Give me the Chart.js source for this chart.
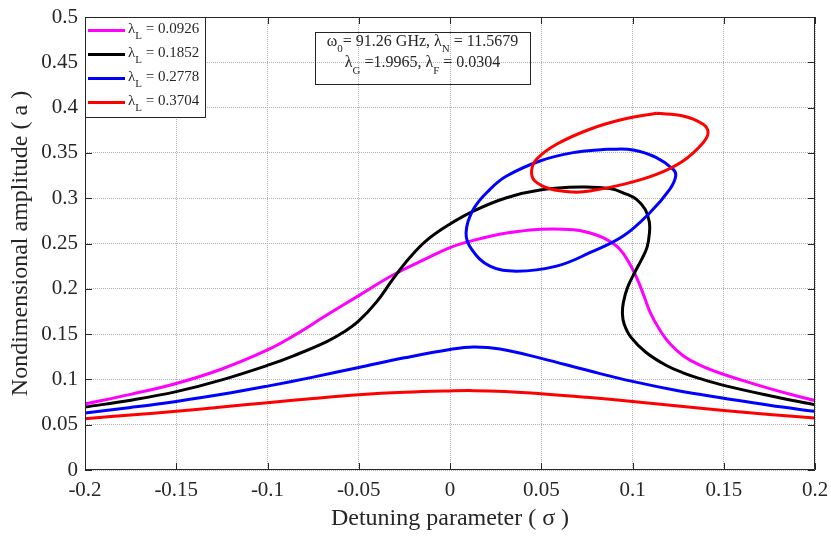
<!DOCTYPE html>
<html><head><meta charset="utf-8">
<script src="https://cdn.jsdelivr.net/npm/chart.js@4.4.1/dist/chart.umd.min.js"></script>
<style>html,body{margin:0;padding:0;background:#fff}#c{display:block}</style>
</head><body>
<canvas id="c" width="831" height="536"></canvas>
<script>
// ---- tick values / labels ----
const xTickValues = [-0.2,-0.15,-0.1,-0.05,0,0.05,0.1,0.15,0.2];
const xTickLabels = ['-0.2','-0.15','-0.1','-0.05','0','0.05','0.1','0.15','0.2'];
const yTickValues = [0,0.05,0.1,0.15,0.2,0.25,0.3,0.35,0.4,0.45,0.5];
const yTickLabels = ['0','0.05','0.1','0.15','0.2','0.25','0.3','0.35','0.4','0.45','0.5'];

// ---- series labels (λ_L values) ----
const lambdaL = ['0.0926','0.1852','0.2778','0.3704'];

// ---- λL = 0.0926 (magenta) ----
const magentaX = [-0.2,-0.175,-0.15,-0.125,-0.1,-0.0858,-0.0675,-0.05,-0.031,-0.0128,0,0.0128,0.031,0.05,0.0677,0.0763,0.0854,0.0927,0.0982,0.1027,0.1064,0.11,0.115,0.1204,0.1277,0.1369,0.15,0.1642,0.1752,0.1875,0.2];
const magentaY = [0.073,0.0835,0.0955,0.1115,0.1325,0.148,0.171,0.1925,0.2155,0.2335,0.2455,0.2535,0.2615,0.2658,0.2652,0.2618,0.2548,0.2445,0.2285,0.2105,0.1915,0.1725,0.1545,0.1395,0.1262,0.1158,0.1055,0.0964,0.0898,0.083,0.0767];

// ---- λL = 0.1852 (black) ----
const blackX = [-0.2,-0.175,-0.15,-0.125,-0.0985,-0.0858,-0.0675,-0.058,-0.05,-0.0401,-0.031,-0.0219,-0.0128,0,0.0128,0.031,0.0493,0.0712,0.0876,0.0967,0.1022,0.107,0.1092,0.1093,0.108,0.105,0.1012,0.0973,0.095,0.0945,0.0954,0.0991,0.1073,0.1186,0.1277,0.1365,0.15,0.1752,0.2];
const blackY = [0.0695,0.077,0.0865,0.0995,0.1165,0.126,0.1418,0.1525,0.1645,0.1858,0.2115,0.2348,0.2535,0.2715,0.2858,0.3005,0.309,0.3123,0.3106,0.3044,0.2987,0.2875,0.274,0.262,0.246,0.2325,0.218,0.2016,0.185,0.172,0.1612,0.1466,0.13,0.1153,0.1073,0.1012,0.0934,0.082,0.072];

// ---- λL = 0.2778 (blue) ----
const blueX = [-0.2,-0.175,-0.15,-0.125,-0.1,-0.075,-0.05,-0.025,0,0.0128,0.0274,0.05,0.0768,0.1,0.125,0.15,0.175,0.2];
const blueY = [0.0629,0.069,0.0757,0.0835,0.0926,0.1025,0.1132,0.1238,0.133,0.1357,0.1335,0.1232,0.1092,0.0978,0.0875,0.0793,0.0715,0.0647];
const blueLoopX = [0.0858,0.1004,0.1131,0.1223,0.1237,0.1204,0.1095,0.0949,0.0766,0.0584,0.0365,0.0219,0.0119,0.0088,0.0128,0.0219,0.031,0.0493,0.0675,0.0858];
const blueLoopY = [0.354,0.3532,0.3448,0.3319,0.3245,0.3098,0.284,0.2582,0.2398,0.225,0.2195,0.225,0.2435,0.2619,0.2877,0.3098,0.3245,0.3411,0.3503,0.354];

// ---- λL = 0.3704 (red) ----
const redX = [-0.2,-0.175,-0.15,-0.125,-0.1,-0.075,-0.05,-0.025,0,0.0128,0.03,0.05,0.075,0.1,0.125,0.15,0.175,0.2];
const redY = [0.0567,0.0607,0.0648,0.0695,0.0743,0.079,0.0831,0.0858,0.0873,0.0876,0.0866,0.0842,0.0802,0.0757,0.0707,0.0658,0.0613,0.0573];
const redLoopX = [0.1131,0.1277,0.1387,0.1414,0.1387,0.1277,0.1131,0.0949,0.0766,0.0675,0.0547,0.0465,0.0447,0.0474,0.0584,0.0766,0.0949,0.1131];
const redLoopY = [0.3937,0.3908,0.3816,0.3724,0.3613,0.3411,0.3263,0.3153,0.3079,0.3068,0.3105,0.319,0.33,0.3429,0.3595,0.3761,0.3871,0.3937];

// ---- annotation text ----
const noteLine1 = [['ω',0],['0',1],['= 91.26 GHz, λ',0],['N',1],[' = 11.5679',0]];
const noteLine2 = [['λ',0],['G',1],[' =1.9965, λ',0],['F',1],[' = 0.0304',0]];

// ---- styles ----
const seriesColors = ['#ff00ff','#000000','#0000ff','#ff0000'];
const FONT = "'Liberation Serif','Times New Roman',serif";
const TXT = '#262626';

const pts = (xs, ys) => xs.map((x, i) => ({x: x, y: ys[i]}));
const curves = [
  {s:0, d:pts(magentaX, magentaY)},
  {s:1, d:pts(blackX, blackY)},
  {s:2, d:pts(blueX, blueY)},
  {s:2, d:pts(blueLoopX, blueLoopY)},
  {s:3, d:pts(redX, redY)},
  {s:3, d:pts(redLoopX, redLoopY)}
];
const datasets = curves.map((c, i) => ({
  label: 'λL = ' + lambdaL[c.s],
  data: c.d,
  borderColor: seriesColors[c.s],
  backgroundColor: seriesColors[c.s],
  borderWidth: 3,
  pointRadius: 0,
  tension: 0.4,
  fill: false,
  order: curves.length - i
}));

function drawRich(ctx, segs, xStart, yMid, size, subSize, subDy) {
  let x = xStart;
  segs.forEach(([t, sub]) => {
    ctx.font = (sub ? subSize : size) + 'px ' + FONT;
    ctx.fillText(t, x, sub ? yMid + subDy : yMid);
    x += ctx.measureText(t).width;
  });
  return x - xStart;
}
function richWidth(ctx, segs, size, subSize) {
  let w = 0;
  segs.forEach(([t, sub]) => { ctx.font = (sub ? subSize : size) + 'px ' + FONT; w += ctx.measureText(t).width; });
  return w;
}

const framePlugin = {
  id: 'frame',
  afterDatasetsDraw(chart) {
    const {ctx, chartArea: a, scales: {x, y}} = chart;
    ctx.save();
    ctx.strokeStyle = TXT; ctx.lineWidth = 1;
    ctx.beginPath();
    ctx.rect(a.left + 0.5, a.top + 0.5, a.right - a.left - 1, a.bottom - a.top - 1);
    ctx.stroke();
    const L = 7;
    ctx.beginPath();
    xTickValues.forEach(v => {
      const px = Math.round(x.getPixelForValue(v)) + 0.5;
      ctx.moveTo(px, a.bottom); ctx.lineTo(px, a.bottom - L);
      ctx.moveTo(px, a.top); ctx.lineTo(px, a.top + L);
    });
    yTickValues.forEach(v => {
      const py = Math.round(y.getPixelForValue(v)) + 0.5;
      ctx.moveTo(a.left, py); ctx.lineTo(a.left + L, py);
      ctx.moveTo(a.right, py); ctx.lineTo(a.right - L, py);
    });
    ctx.stroke();
    ctx.restore();
  },
  afterDraw(chart) {
    const {ctx, chartArea: a} = chart;
    ctx.save();
    // legend
    const lx = a.left, ly = a.top, lw = 120, lh = 100;
    ctx.fillStyle = '#fff';
    ctx.fillRect(lx, ly, lw, lh);
    ctx.strokeStyle = TXT; ctx.lineWidth = 1;
    ctx.strokeRect(lx + 0.5, ly + 0.5, lw, lh);
    ctx.textBaseline = 'middle'; ctx.textAlign = 'left';
    lambdaL.forEach((val, i) => {
      const yy = ly + 13.5 + i * 24;
      ctx.strokeStyle = seriesColors[i]; ctx.lineWidth = 3;
      ctx.beginPath(); ctx.moveTo(lx + 3, yy); ctx.lineTo(lx + 40, yy); ctx.stroke();
      ctx.fillStyle = TXT;
      drawRich(ctx, [['λ',0],['L',1],[' = ' + val,0]], lx + 43, yy - 1, 15, 11, 7);
    });
    // annotation box
    const bx = a.left + 230, by = a.top + 15, bw = 215, bh = 52;
    ctx.strokeStyle = TXT; ctx.lineWidth = 1;
    ctx.strokeRect(bx + 0.5, by + 0.5, bw, bh);
    ctx.fillStyle = TXT;
    const cx = bx + bw / 2;
    const w1 = richWidth(ctx, noteLine1, 16, 11);
    drawRich(ctx, noteLine1, cx - w1 / 2, by + 9.5, 16, 11, 8);
    const w2 = richWidth(ctx, noteLine2, 16, 11);
    drawRich(ctx, noteLine2, cx - w2 / 2, by + 31, 16, 11, 8);
    ctx.restore();
  }
};

new Chart(document.getElementById('c').getContext('2d'), {
  type: 'line',
  data: {datasets: datasets},
  options: {
    responsive: false,
    animation: false,
    events: [],
    layout: {padding: {left: 0, right: 16, top: 17, bottom: 0}},
    plugins: {legend: {display: false}, tooltip: {enabled: false}},
    scales: {
      x: {
        type: 'linear', min: -0.2, max: 0.2,
        afterBuildTicks: s => { s.ticks = xTickValues.map(v => ({value: v})); },
        ticks: {
          callback: (v, i) => xTickLabels[i],
          color: TXT, font: {family: FONT, size: 21}, padding: 8, maxRotation: 0, autoSkip: false
        },
        grid: {color: '#b0b0b0', lineWidth: 1, drawTicks: false},
        border: {display: false, dash: [1, 1]},
        title: {display: true, text: 'Detuning parameter ( σ )', color: TXT, font: {family: FONT, size: 24}, padding: {top: 0, bottom: 3}},
        afterFit: s => { s.height = 66; s.paddingLeft = 0; s.paddingRight = 0; }
      },
      y: {
        type: 'linear', min: 0, max: 0.5,
        afterBuildTicks: s => { s.ticks = yTickValues.map(v => ({value: v})); },
        ticks: {
          callback: (v, i) => yTickLabels[i],
          color: TXT, font: {family: FONT, size: 21}, padding: 7, autoSkip: false
        },
        grid: {color: '#b0b0b0', lineWidth: 1, drawTicks: false},
        border: {display: false, dash: [1, 1]},
        title: {display: true, text: 'Nondimensional amplitude ( a )', color: TXT, font: {family: FONT, size: 24}, padding: {top: 6, bottom: 0}},
        afterFit: s => { s.width = 85; s.paddingTop = 0; s.paddingBottom = 0; }
      }
    }
  },
  plugins: [framePlugin]
});
</script>
</body></html>
